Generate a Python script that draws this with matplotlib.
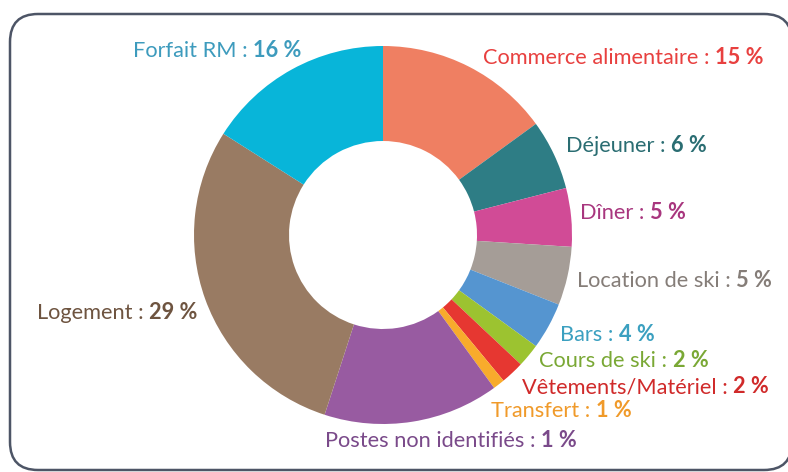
import matplotlib.pyplot as plt
from matplotlib.patches import FancyBboxPatch

plt.rcParams['font.family'] = ['Lato', 'DejaVu Sans']

# data (clockwise from top)
categories = ['Commerce alimentaire', 'Déjeuner', 'Dîner', 'Location de ski', 'Bars',
              'Cours de ski', 'Vêtements/Matériel', 'Transfert', 'Postes non identifiés',
              'Logement', 'Forfait RM']
values = [15, 6, 5, 5, 4, 2, 2, 1, 15, 29, 16]
value_labels = ['15 %', '6 %', '5 %', '5 %', '4 %', '2 %', '2 %', '1 %', '1 %', '29 %', '16 %']

slice_colors = ['#ef7f62', '#2e7d85', '#d14b96', '#a59d97', '#5595d0', '#9cc330',
                '#e63731', '#f8ab2c', '#985ba1', '#997b63', '#08b5d9']
text_colors = ['#e8403f', '#2a6d72', '#a8367e', '#857d78', '#3ba0c0', '#7aa835',
               '#d02a2a', '#f09a2a', '#7a4a8a', '#6e5440', '#3d9bbd']

# label anchor (left x, centre y) in image pixels
label_pos = [(483, 58), (566, 146), (580, 213), (577, 281), (560, 335), (539, 361),
             (522, 387), (491, 411), (325, 441), (37, 313), (133, 51)]

W, H = 788, 472
fig = plt.figure(figsize=(W / 100, H / 100), dpi=100)
ax = fig.add_axes([0, 0, 1, 1])

frame = FancyBboxPatch((10, 2), 782, 456, boxstyle='round,pad=0,rounding_size=28',
                       fc='white', ec='#4d5566', lw=1.8, clip_on=False)
ax.add_patch(frame)

ax.pie(values, colors=slice_colors, startangle=90, counterclock=False,
       center=(383, H - 235), radius=189, frame=True,
       wedgeprops=dict(width=95, linewidth=0))
ax.set_xlim(0, W)
ax.set_ylim(0, H)
ax.set_aspect('equal')
ax.axis('off')

for cat, val, col, (x, y) in zip(categories, value_labels, text_colors, label_pos):
    t = ax.text(x, H - y, cat + ' : ', color=col, fontsize=15.7, va='center', ha='left')
    ax.annotate(val, xy=(1, 0), xycoords=t, color=col, fontsize=15.7,
                fontweight='bold', va='bottom', ha='left')

fig.savefig('out.png', dpi=100)
